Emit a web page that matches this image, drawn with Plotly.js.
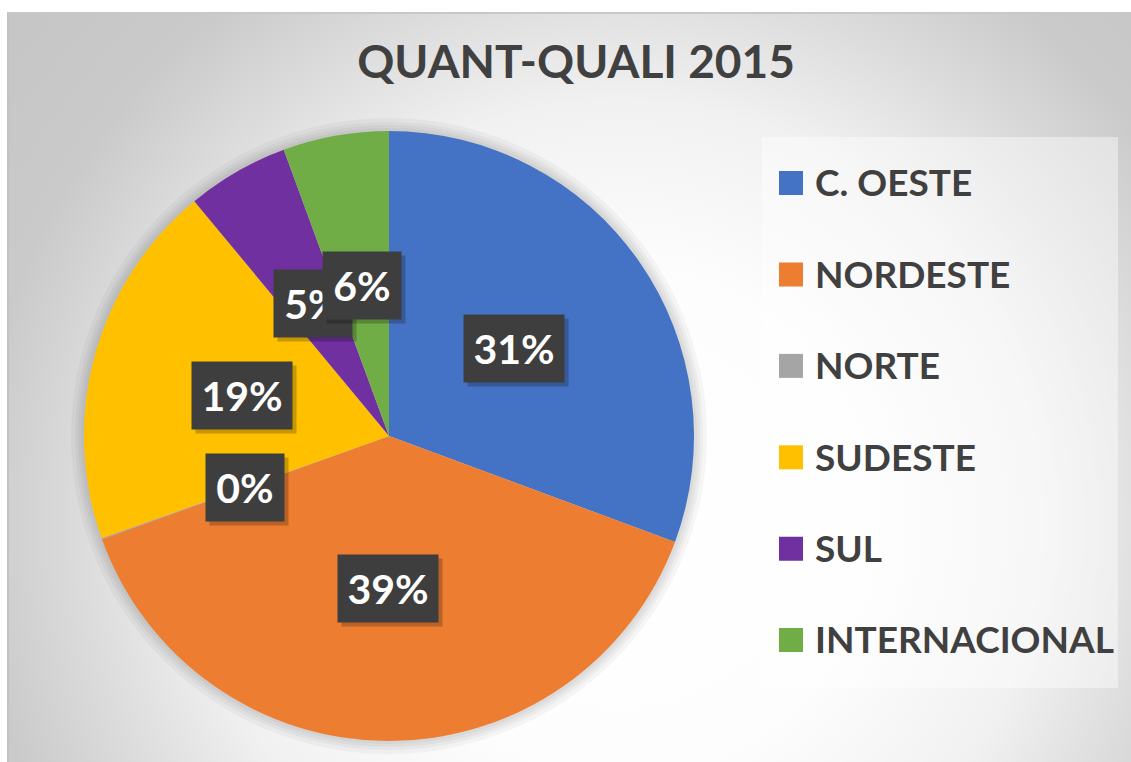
<!DOCTYPE html>
<html><head><meta charset="utf-8">
<script src="https://cdn.plot.ly/plotly-3.0.1.min.js"></script>
<style>
html,body{margin:0;padding:0;background:#fff;width:1131px;height:762px;overflow:hidden;}
#bg{position:absolute;left:7px;top:12px;width:1124px;height:750px;box-sizing:border-box;border-left:2px solid #c2c2c2;border-top:2px solid #c8c8c8;
background:radial-gradient(circle at 613px 508px,#ffffff 0px,#fdfdfd 250px,#f1f1f1 420px,#dcdcdc 540px,#cacaca 650px,#c2c2c2 900px);}
#chart{position:absolute;left:0;top:0;width:1131px;height:762px;}
</style></head><body><div id="bg"></div><div id="chart"></div>
<script>
const categories = ['C. OESTE', 'NORDESTE', 'NORTE', 'SUDESTE', 'SUL', 'INTERNACIONAL'];
const shares = [30.6, 38.8, 0.05, 19.4, 5.4, 5.6];
const colors = ['#4472C4', '#ED7D31', '#A5A5A5', '#FFC000', '#7030A0', '#70AD47'];
const chartTitle = 'QUANT-QUALI 2015';

const W = 1131, H = 762, CX = 389, CY = 436, R = 305;
const FONT = 'Lato, "Open Sans", sans-serif';

function dom(d) {
  return {
    x: [(CX - R - d) / W, (CX + R + d) / W],
    y: [(H - CY - R - d) / H, (H - CY + R + d) / H]
  };
}

const traces = [];
[13, 9, 6, 3].forEach(d => {
  traces.push({
    type: 'pie', values: [1], labels: ['sombra' + d], sort: false,
    marker: {colors: ['rgba(0,0,0,0.035)'], line: {width: 0}},
    textinfo: 'none', hoverinfo: 'skip', showlegend: false, domain: dom(d)
  });
});
traces.push({
  type: 'pie',
  labels: categories.map(c => '<span style="font-size:37px">' + c + '</span><br> '),
  values: shares,
  sort: false,
  direction: 'clockwise',
  rotation: 0,
  marker: {colors: colors, line: {width: 0}},
  textinfo: 'none',
  hovertemplate: '%{label}: %{percent}<extra></extra>',
  domain: dom(0)
});

const total = shares.reduce((a, b) => a + b, 0);
let cum = 0;
const annotations = [];
shares.forEach((v, i) => {
  const mid = (cum + v / 2) / total;
  cum += v;
  const th = mid * 2 * Math.PI;
  const x = (CX + 0.5 * R * Math.sin(th)) / W;
  const y = (H - (CY - 0.5 * R * Math.cos(th))) / H;
  const txt = Math.round(v / total * 100) + '%';
  const bw = txt.length >= 3 ? 82 : 60;
  annotations.push({
    xref: 'paper', yref: 'paper', x: x, y: y, xanchor: 'center', yanchor: 'middle',
    text: ' ', showarrow: false, xshift: 4, yshift: -4, width: bw, height: 49,
    font: {family: FONT, size: 41, color: 'rgba(0,0,0,0)', weight: 'bold'},
    bgcolor: 'rgba(0,0,0,0.22)', borderpad: 9
  });
  annotations.push({
    xref: 'paper', yref: 'paper', x: x, y: y, xanchor: 'center', yanchor: 'middle',
    text: txt, showarrow: false, width: bw, height: 49,
    font: {family: FONT, size: 41, color: '#ffffff', weight: 'bold'},
    bgcolor: '#3e3e3e', borderpad: 9
  });
});

const layout = {
  width: W, height: H,
  margin: {l: 0, r: 0, t: 0, b: 0},
  paper_bgcolor: 'rgba(0,0,0,0)',
  plot_bgcolor: 'rgba(0,0,0,0)',
  title: {
    text: chartTitle, x: 576 / W, xanchor: 'center', y: (H - 62) / H, yanchor: 'middle',
    font: {family: FONT, size: 46, color: '#404040', weight: 'bold'}
  },
  showlegend: true,
  legend: {
    x: 771 / W, xanchor: 'left', y: (H - 154.5) / H, yanchor: 'top',
    bgcolor: 'rgba(0,0,0,0)', borderwidth: 0,
    font: {family: FONT, size: 34, color: '#404040', weight: 'bold'},
    valign: 'top', itemwidth: 34, itemclick: false, itemdoubleclick: false
  },
  shapes: [{
    type: 'rect', xref: 'paper', yref: 'paper', layer: 'below',
    x0: 762 / W, x1: 1118 / W, y0: (H - 688) / H, y1: (H - 137) / H,
    fillcolor: 'rgba(255,255,255,0.42)', line: {width: 0}
  }],
  annotations: annotations
};

function fixLegend() {
  document.querySelectorAll('#chart path.legendpie').forEach(p => {
    p.setAttribute('transform', 'translate(20,0) scale(2)');
  });
}
const gd = document.getElementById('chart');
Plotly.newPlot(gd, traces, layout, {displayModeBar: false, staticPlot: true}).then(() => {
  fixLegend();
  gd.on('plotly_afterplot', fixLegend);
});
</script></body></html>
